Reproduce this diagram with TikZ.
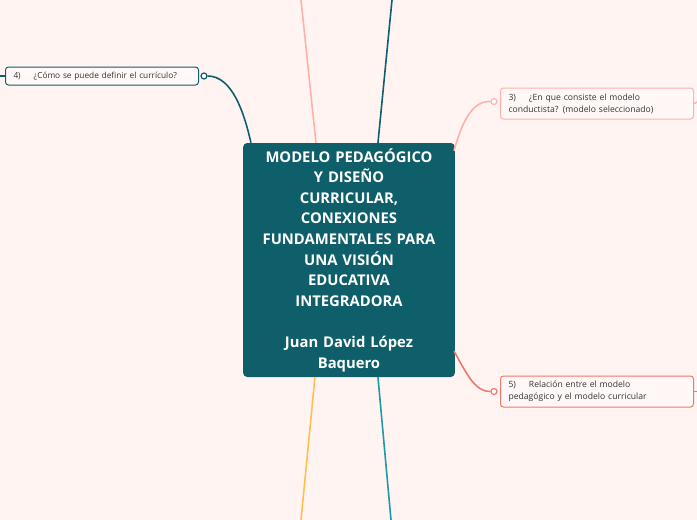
\documentclass[tikz,border=0pt]{standalone}
\usepackage{fontspec}
\setmainfont{Open Sans}
\usetikzlibrary{calc}
\definecolor{bgpink}{HTML}{FFF4F2}
\definecolor{boxpink}{HTML}{FFF8F7}
\definecolor{mapteal}{HTML}{0F5F6A}
\definecolor{lineteal}{HTML}{1E9AA5}
\definecolor{linepink}{HTML}{FFB1AA}
\definecolor{linered}{HTML}{F2776B}
\definecolor{lineyellow}{HTML}{FFC04D}
\definecolor{textgrey}{HTML}{333333}

\begin{document}
\begin{tikzpicture}[x=1pt,y=-1pt,
    topic/.style={draw=#1,fill=boxpink,rounded corners=3pt,line width=1pt,
      anchor=west,minimum width=193pt,minimum height=31pt,inner xsep=8pt,inner ysep=3pt,
      text width=177pt,align=left,text=textgrey,font=\fontsize{8.6}{12}\selectfont},
    knob/.style={circle,draw=#1,fill=white,line width=1.2pt,inner sep=0pt,minimum size=6pt},
    branch/.style={line width=1.6pt,draw=#1}]
  % background
  \fill[bgpink] (0,0) rectangle (697,520);
  \useasboundingbox (0,0) rectangle (697,520);

  % central topic
  \node[fill=mapteal,rounded corners=4pt,minimum width=210pt,minimum height=234pt,
        text width=205pt,align=center,text=white,
        font=\bfseries\fontsize{14.8}{20.6}\selectfont] (main) at (349,260)
    {MODELO PEDAGÓGICO\\ Y DISEÑO\\ CURRICULAR,\\ CONEXIONES\\ FUNDAMENTALES PARA\\ UNA VISIÓN\\ EDUCATIVA\\ INTEGRADORA\\[20.6pt] Juan David López\\ Baquero};

  % subtopics
  \node[topic=mapteal,minimum height=18pt,inner ysep=2pt,font=\fontsize{8.3}{12}\selectfont] (q4) at (5,76) {4)\hspace{13pt}¿Cómo se puede definir el currículo?};
  \node[topic=linepink] (q3) at (500,103.5) {3)\hspace{13pt}¿En que consiste el modelo\\ conductista? (modelo seleccionado)};
  \node[topic=linered] (q5) at (500,391.5) {5)\hspace{13pt}Relación entre el modelo\\ pedagógico y el modelo curricular};

  \node[knob=mapteal] (k4) at ($(q4.east)+(5,0)$) {};
  \node[knob=linepink] (k3) at ($(q3.west)+(-6,-2)$) {};
  \node[knob=linered] (k5) at ($(q5.west)+(-6,0)$) {};

  % exits of branches
  \coordinate (t1) at (301,0);
  \coordinate (t2) at (392,0);
  \coordinate (b1) at (301,520);
  \coordinate (b2) at (391,520);
  \coordinate (l4) at (0,76);
  \coordinate (r3) at (697,102);
  \coordinate (r5) at (697,391.5);

  % branches
  \draw[branch=linepink] ($(main.north west)+(73,0)$) -- (t1);
  \draw[branch=mapteal] ($(main.north west)+(135,0)$) -- (t2);
  \draw[branch=lineyellow] ($(main.south west)+(72,0)$) -- (b1);
  \draw[branch=lineteal] ($(main.south west)+(135,0)$) -- (b2);
  \draw[branch=mapteal] (k4) .. controls (232,76) and (244,112) .. ($(main.north west)+(8,0)$);
  \draw[branch=linepink] (k3) .. controls (472,101) and (462,122) .. ($(main.north east)+(-1,8)$);
  \draw[branch=linered] ($(main.south east)+(-1,-26)$) .. controls (466,372) and (474,391.5) .. (k5);
  \draw[branch=mapteal] (q4.west) -- (l4);
  \draw[branch=linepink] (q3.east) -- (r3);
  \draw[branch=linered] (q5.east) -- (r5);
\end{tikzpicture}
\end{document}
